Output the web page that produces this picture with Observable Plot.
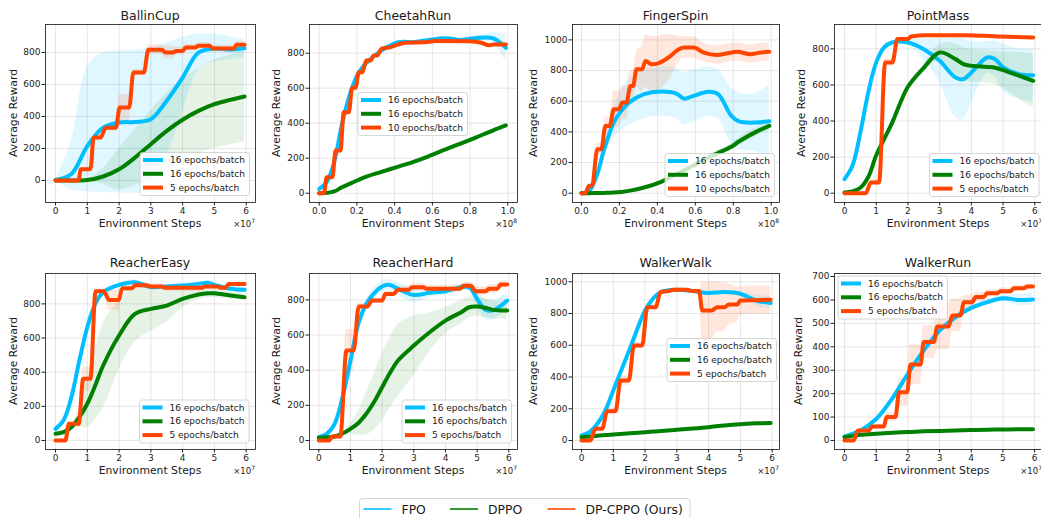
<!DOCTYPE html>
<html><head><meta charset="utf-8">
<script src="https://cdn.jsdelivr.net/npm/d3@7"></script>
<script src="https://cdn.jsdelivr.net/npm/@observablehq/plot@0.6"></script>
<style>
html,body{margin:0;padding:0;background:#fff;}
#root{position:relative;width:1041px;height:518px;overflow:hidden;font-family:"DejaVu Sans",sans-serif;}
</style></head><body><div id="root"></div>
<script>
// ---------- data ----------
const NAMES = ["BallinCup","CheetahRun","FingerSpin","PointMass","ReacherEasy","ReacherHard","WalkerWalk","WalkerRun"];
const SERIES = ["FPO","DPPO","DP-CPPO (Ours)"];
const FPO_LABEL = "16 epochs/batch", DPPO_LABEL = "16 epochs/batch";
const CP_LABELS = ["5 epochs/batch","10 epochs/batch","10 epochs/batch","5 epochs/batch","5 epochs/batch","5 epochs/batch","5 epochs/batch","5 epochs/batch"];
const X_TICKS_7 = [0,1,2,3,4,5,6];
const X_TICKS_8 = [0,0.2,0.4,0.6,0.8,1.0];
const Y_TICKS_800 = [0,200,400,600,800];
const Y_TICKS_1000 = [0,200,400,600,800,1000];
const Y_TICKS_700 = [0,100,200,300,400,500,600,700];

// BallinCup (FPO band given as explicit lower/upper edges)
const ballX = [0,0.5,1,1.5,2,2.5,3,3.5,4,4.5,5,5.5,5.95];
const ballFPO = [3,40,215,330,362,366,383,498,643,800,825,818,826];
const ballFPOlo = [3,-60,-70,-75,-78,-78,-72,150,420,690,740,755,770];
const ballFPOhi = [3,250,710,800,810,815,830,860,895,915,915,900,880];
const ballDPPO = [0,0,3,25,70,143,227,310,380,435,477,504,525];
const ballDPPOsd = [0,0,5,50,130,175,210,235,255,265,275,280,285];
const ballCPX = [0,0.72,0.8,1.1,1.2,1.42,1.58,1.9,2.02,2.32,2.45,2.78,2.92,3.35,3.45,3.7,3.8,4.0,4.1,4.4,4.5,4.85,4.95,5.6,5.7,5.95];
const ballCP = [0,0,71,71,269,269,330,330,456,456,675,675,817,817,800,800,810,810,831,831,842,842,825,825,848,848];
const ballCPsd = [0,0,10,10,20,20,20,20,80,80,20,20,30,30,40,40,25,25,20,20,20,20,20,20,20,20];

// CheetahRun (x in 1e8)
const cheX = [0,0.04,0.08,0.12,0.17,0.21,0.25,0.33,0.42,0.5,0.58,0.67,0.75,0.83,0.92,0.99];
const cheFPO = [25,63,180,390,590,690,745,815,863,863,876,886,876,886,886,830];
const cheFPOsd = [5,5,10,10,10,10,10,10,10,10,10,10,10,15,30,80];
const cheDPPO = [0,2,10,34,58,77,95,122,152,179,211,250,284,318,358,387];
const cheDPPOsd = [0,1,2,3,4,5,6,6,7,7,8,8,8,9,9,10];
const cheCPX = [0,0.025,0.04,0.07,0.087,0.113,0.13,0.157,0.175,0.193,0.21,0.228,0.25,0.272,0.29,0.307,0.33,0.38,0.42,0.46,0.55,0.62,0.8,0.86,0.9,0.93,0.99];
const cheCP = [0,0,91,91,244,244,463,463,602,602,691,691,758,758,787,787,825,835,850,860,862,870,868,860,845,850,850];
const cheCPsd = [0,0,12,12,15,15,15,15,15,15,12,12,12,12,12,12,12,12,12,12,12,12,12,12,12,12,12];

// FingerSpin (x in 1e8)
const finX = [0,0.04,0.08,0.12,0.17,0.21,0.25,0.33,0.42,0.5,0.54,0.58,0.67,0.72,0.79,0.83,0.92,0.99];
const finFPO = [0,15,113,287,461,537,591,646,663,650,617,630,661,646,505,468,461,470];
const finFPOsd = [0,5,20,50,100,130,150,160,160,165,170,170,160,160,185,185,190,240];
const finDPPO = [0,0,1,2,4,8,15,37,74,124,148,174,233,262,303,337,400,439];
const finDPPOsd = [0,0,0,0,2,3,5,8,10,12,14,15,18,20,22,25,28,30];
const finCPX = [0,0.02,0.04,0.056,0.083,0.105,0.126,0.149,0.17,0.197,0.215,0.237,0.258,0.272,0.29,0.32,0.337,0.37,0.4,0.43,0.47,0.5,0.54,0.59,0.645,0.715,0.77,0.82,0.89,0.94,0.99];
const finCP = [0,0,48,48,287,287,439,439,548,548,591,591,700,700,809,809,863,841,845,863,896,928,950,950,917,902,913,922,907,917,922];
const finCPsd = [0,0,10,10,40,40,60,60,120,120,110,110,100,100,120,150,170,180,175,170,140,100,70,70,60,60,60,60,60,60,60];

// PointMass
const ptX = [0,0.25,0.5,0.75,1,1.25,1.5,2,2.5,3,3.5,3.75,4,4.5,4.75,5,5.5,5.95];
const ptFPO = [78,152,336,558,725,808,835,835,798,734,641,632,669,752,743,697,660,654];
const ptFPOsd = [0,0,0,0,0,0,5,15,60,120,220,225,170,90,100,130,140,145];
const ptDPPO = [4,10,30,90,210,300,390,590,695,780,743,715,706,700,695,682,651,623];
const ptDPPOsd = [0,0,0,0,0,0,0,5,20,45,85,90,90,90,92,100,130,150];
const ptCPX = [0,0.67,0.83,1.09,1.28,1.51,1.67,2.0,2.1,2.6,3.8,4.8,5.95];
const ptCP = [0,0,59,59,725,725,854,854,869,876,876,869,863];
const ptCPsd = [0,0,15,15,20,20,10,10,8,8,8,8,8];

// ReacherEasy
const reX = [0,0.25,0.5,0.75,1,1.25,1.5,2,2.5,3,3.5,4,4.5,4.8,5,5.5,5.95];
const reFPO = [68,117,254,468,663,800,868,911,927,898,902,907,917,923,911,888,882];
const reFPOsd = [5,5,10,10,10,10,10,10,12,12,12,12,12,12,12,15,15];
const reDPPO = [39,49,78,137,215,322,439,615,741,771,790,829,855,862,862,849,839];
const reDPPOsd = [0,0,10,60,137,200,250,200,165,130,97,50,30,25,25,20,20];
const reCPX = [0,0.31,0.42,0.73,0.87,1.1,1.26,1.52,1.68,1.99,2.1,2.41,2.52,2.9,3.0,3.35,3.45,4.6,4.7,5.1,5.2,5.35,5.45,5.95];
const reCP = [0,0,98,98,361,361,874,874,823,823,892,892,911,907,901,901,894,894,901,901,894,894,917,917];
const reCPsd = [0,0,10,10,70,70,15,15,60,60,20,20,15,15,15,15,20,20,15,15,15,15,10,10];

// ReacherHard
const rhX = [0,0.25,0.5,0.75,1,1.25,1.5,1.75,2,2.25,2.5,3,3.5,4,4.5,4.75,5,5.25,5.5,5.95];
const rhFPO = [19,38,95,246,455,664,777,838,876,885,863,828,840,849,872,872,806,745,740,796];
const rhFPOsd = [5,5,10,20,30,30,30,30,30,30,35,45,30,20,20,25,45,55,55,45];
const rhDPPO = [15,18,23,40,66,100,152,220,303,385,455,540,616,682,730,758,762,755,743,739];
const rhDPPOsd = [0,0,3,10,30,70,120,160,190,200,205,170,110,75,65,60,55,55,50,50];
const rhCPX = [0,0.32,0.42,0.68,0.87,1.1,1.26,1.53,1.68,2.0,2.1,2.37,2.49,2.84,2.95,3.3,3.4,4.45,4.58,4.8,4.95,5.26,5.37,5.63,5.74,5.95];
const rhCP = [0,0,23,23,512,512,762,762,796,796,834,834,857,857,872,872,863,863,880,880,849,849,863,863,887,887];
const rhCPsd = [0,0,10,10,120,120,20,20,15,15,15,15,20,20,20,20,20,20,20,20,25,25,25,25,20,20];

// WalkerWalk
const wwX = [0,0.25,0.5,0.75,1,1.5,2,2.25,2.5,3,3.5,4,4.5,5,5.5,5.95];
const wwFPO = [32,53,105,189,315,567,819,893,935,950,941,929,935,924,882,866];
const wwFPOsd = [5,5,8,10,10,12,15,12,10,8,8,8,10,15,35,40];
const wwDPPO = [20,25,30,34,38,45,52,56,60,67,75,84,95,103,108,111];
const wwDPPOsd = [2,2,2,3,3,3,4,4,4,5,5,5,5,6,6,6];
const wwCPX = [0,0.28,0.44,0.65,0.81,1.07,1.23,1.49,1.65,1.91,2.07,2.33,2.49,2.75,2.9,3.3,3.5,3.7,3.8,4.1,4.27,4.5,4.64,4.9,5.0,5.95];
const wwCP = [0,0,74,74,185,185,378,378,599,599,840,840,935,941,950,950,941,941,819,819,840,840,857,857,882,886];
const wwCPsd = [0,0,10,10,15,15,30,30,20,20,20,20,10,10,10,10,10,10,180,180,160,150,130,110,90,90];

// WalkerRun
const wrX = [0,0.5,1,1.5,2,2.5,3,3.5,4,4.5,5,5.5,5.95];
const wrFPO = [17,43,92,178,285,384,469,526,566,590,607,600,602];
const wrFPOsd = [3,5,8,10,12,12,12,12,12,12,15,25,25];
const wrDPPO = [14,24,29,33,36,39,41,43,45,46,47,48,48];
const wrDPPOsd = [2,2,2,2,2,2,2,2,3,3,3,3,3];
const wrCPX = [0,0.29,0.42,0.77,0.87,1.24,1.33,1.61,1.72,1.98,2.08,2.4,2.5,2.82,2.93,3.29,3.4,3.66,3.77,4.03,4.14,4.4,4.5,4.82,4.93,5.24,5.35,5.66,5.77,5.95];
const wrCP = [0,0,43,43,60,60,100,100,206,206,324,324,420,420,487,487,534,534,590,590,612,612,629,629,637,637,650,650,657,657];
const wrCPsd = [0,0,5,5,10,10,20,20,60,60,85,85,70,70,100,100,70,70,30,30,20,20,15,15,15,15,12,12,10,10];

// ---------- assembly ----------
const panels = [
  {x:ballX,fpo:ballFPO,fpoLo:ballFPOlo,fpoHi:ballFPOhi,dppo:ballDPPO,dppoSd:ballDPPOsd,cpX:ballCPX,cp:ballCP,cpSd:ballCPsd,xt:X_TICKS_7,yt:Y_TICKS_800,exp:7},
  {x:cheX,fpo:cheFPO,fpoSd:cheFPOsd,dppo:cheDPPO,dppoSd:cheDPPOsd,cpX:cheCPX,cp:cheCP,cpSd:cheCPsd,xt:X_TICKS_8,yt:Y_TICKS_800,exp:8},
  {x:finX,fpo:finFPO,fpoSd:finFPOsd,dppo:finDPPO,dppoSd:finDPPOsd,cpX:finCPX,cp:finCP,cpSd:finCPsd,xt:X_TICKS_8,yt:Y_TICKS_1000,exp:8},
  {x:ptX,fpo:ptFPO,fpoSd:ptFPOsd,dppo:ptDPPO,dppoSd:ptDPPOsd,cpX:ptCPX,cp:ptCP,cpSd:ptCPsd,xt:X_TICKS_7,yt:Y_TICKS_800,exp:7},
  {x:reX,fpo:reFPO,fpoSd:reFPOsd,dppo:reDPPO,dppoSd:reDPPOsd,cpX:reCPX,cp:reCP,cpSd:reCPsd,xt:X_TICKS_7,yt:Y_TICKS_800,exp:7},
  {x:rhX,fpo:rhFPO,fpoSd:rhFPOsd,dppo:rhDPPO,dppoSd:rhDPPOsd,cpX:rhCPX,cp:rhCP,cpSd:rhCPsd,xt:X_TICKS_7,yt:Y_TICKS_800,exp:7},
  {x:wwX,fpo:wwFPO,fpoSd:wwFPOsd,dppo:wwDPPO,dppoSd:wwDPPOsd,cpX:wwCPX,cp:wwCP,cpSd:wwCPsd,xt:X_TICKS_7,yt:Y_TICKS_1000,exp:7},
  {x:wrX,fpo:wrFPO,fpoSd:wrFPOsd,dppo:wrDPPO,dppoSd:wrDPPOsd,cpX:wrCPX,cp:wrCP,cpSd:wrCPsd,xt:X_TICKS_7,yt:Y_TICKS_700,exp:7}
];

// layout (frame positions in page px, scale domains)
const LAYOUT = [
  {l:45, t:24, w:210,h:178, xd:[-0.315,6.293], yd:[-137.5,975], ay:13.5, tb:20,  lg:[140,152.5]},
  {l:309,t:24, w:208,h:178, xd:[-0.0514,1.0514], yd:[-53,964], ay:276.5, tb:20, lg:[358,92.5]},
  {l:572,t:24, w:207,h:178, xd:[-0.0474,1.0438], yd:[-60.7,1100.5], ay:533.5, tb:20, lg:[665,153.5]},
  {l:834,t:24, w:208,h:178, xd:[-0.315,6.242], yd:[-51.6,935], ay:801, tb:20, lg:[929.5,153.5]},
  {l:45, t:273,w:210,h:176, xd:[-0.315,6.293], yd:[-52.7,977.8], ay:13, tb:266.5, lg:[139.5,400]},
  {l:309,t:273,w:208,h:176, xd:[-0.294,6.274], yd:[-51.2,950], ay:276.5, tb:266.5, lg:[402,400]},
  {l:572,t:273,w:207,h:176, xd:[-0.283,6.23], yd:[-56.7,1052], ay:533, tb:266.5, lg:[667,338.5]},
  {l:834,t:273,w:208,h:176, xd:[-0.316,6.25], yd:[-38.4,712.8], ay:798.5, tb:266.5, lg:[838,276]}
];
const BLUE = "#00BFFF", GREEN = "#008000", ORANGE = "#FF4500";
const COLORS = [BLUE, GREEN, ORANGE];
const FONT = "DejaVu Sans";
const root = document.getElementById("root");

function rows(xs, ys, sd, lo, hi) {
  return xs.map((x, i) => ({
    x, y: ys[i],
    lo: lo ? lo[i] : ys[i] - sd[i],
    hi: hi ? hi[i] : ys[i] + sd[i]
  }));
}

panels.forEach((p, i) => {
  const L = LAYOUT[i];
  const ML = 40, MR = 6, MT = 5, MB = 25;
  const f = rows(p.x, p.fpo, p.fpoSd, p.fpoLo, p.fpoHi);
  const d = rows(p.x, p.dppo, p.dppoSd);
  const c = rows(p.cpX, p.cp, p.cpSd);
  const fmt = p.exp === 8 ? d3.format(".1f") : (v => String(v));
  const svg = Plot.plot({
    width: L.w + ML + MR, height: L.h + MT + MB,
    marginLeft: ML, marginRight: MR, marginTop: MT, marginBottom: MB,
    style: {fontFamily: FONT, fontSize: "9px", color: "#222", background: "none", overflow: "visible"},
    x: {domain: L.xd, label: null},
    y: {domain: L.yd, label: null},
    marks: [
      Plot.gridX(p.xt, {stroke: "#b0b0b0", strokeOpacity: 0.4, strokeWidth: 0.8}),
      Plot.gridY(p.yt, {stroke: "#b0b0b0", strokeOpacity: 0.4, strokeWidth: 0.8}),
      Plot.areaY(f, {x: "x", y1: "lo", y2: "hi", fill: BLUE, fillOpacity: 0.12, curve: "catmull-rom"}),
      Plot.areaY(d, {x: "x", y1: "lo", y2: "hi", fill: GREEN, fillOpacity: 0.1, curve: "catmull-rom"}),
      Plot.areaY(c, {x: "x", y1: "lo", y2: "hi", fill: ORANGE, fillOpacity: 0.13, curve: "monotone-x"}),
      Plot.line(f, {x: "x", y: "y", stroke: BLUE, strokeWidth: 4, curve: "catmull-rom"}),
      Plot.line(d, {x: "x", y: "y", stroke: GREEN, strokeWidth: 4, curve: "catmull-rom"}),
      Plot.line(c, {x: "x", y: "y", stroke: ORANGE, strokeWidth: 4, curve: "monotone-x"}),
      Plot.axisX(p.xt, {tickSize: 3.5, tickPadding: 2, tickFormat: fmt, label: null}),
      Plot.axisY(p.yt, {tickSize: 3.5, tickPadding: 1.5, tickFormat: v => String(v), label: null}),
      Plot.frame({stroke: "#111", strokeWidth: 0.8})
    ]
  });
  svg.style.position = "absolute";
  svg.style.left = (L.l - ML) + "px";
  svg.style.top = (L.t - MT) + "px";
  root.appendChild(svg);
});

// ---------- overlay: titles, axis labels, legends ----------
const ov = d3.select(root).append("svg")
  .attr("width", 1041).attr("height", 518)
  .style("position", "absolute").style("left", "0px").style("top", "0px")
  .style("font-family", FONT).attr("fill", "#1a1a1a");

panels.forEach((p, i) => {
  const L = LAYOUT[i];
  const cx = L.l + L.w / 2;
  ov.append("text").attr("x", cx).attr("y", L.tb).attr("text-anchor", "middle")
    .attr("font-size", 12.5).text(NAMES[i]);
  ov.append("text").attr("transform", `translate(${L.ay},${L.t + L.h / 2}) rotate(-90)`)
    .attr("text-anchor", "middle").attr("dominant-baseline", "central")
    .attr("font-size", 10.8).text("Average Reward");
  ov.append("text").attr("x", cx).attr("y", L.t + L.h + 25).attr("text-anchor", "middle")
    .attr("font-size", 10.8).text("Environment Steps");
  const e = ov.append("text").attr("x", L.l + L.w).attr("y", L.t + L.h + 24.5)
    .attr("text-anchor", "end").attr("font-size", 8.5);
  e.append("tspan").text("×10");
  e.append("tspan").attr("dy", -3.5).attr("font-size", 6).text(String(p.exp));

  // inner legend
  const [lx, ly] = L.lg;
  const g = ov.append("g");
  g.append("rect").attr("x", lx).attr("y", ly).attr("width", 109.5).attr("height", 43)
    .attr("rx", 2.5).attr("fill", "white").attr("fill-opacity", 0.8)
    .attr("stroke", "#cccccc").attr("stroke-width", 0.8);
  const labs = [FPO_LABEL, DPPO_LABEL, CP_LABELS[i]];
  labs.forEach((lab, k) => {
    const y = ly + 7.5 + 13.8 * k;
    g.append("line").attr("x1", lx + 3).attr("x2", lx + 23).attr("y1", y).attr("y2", y)
      .attr("stroke", COLORS[k]).attr("stroke-width", 4);
    g.append("text").attr("x", lx + 30).attr("y", y).attr("dominant-baseline", "central")
      .attr("font-size", 9).text(lab);
  });
});

// bottom legend
const bl = ov.append("g");
bl.append("rect").attr("x", 359.5).attr("y", 498.5).attr("width", 330.5).attr("height", 28)
  .attr("rx", 3).attr("fill", "white").attr("stroke", "#cccccc").attr("stroke-width", 0.8);
const BX = [363.5, 450, 547.5];
SERIES.forEach((s, k) => {
  bl.append("line").attr("x1", BX[k]).attr("x2", BX[k] + 28).attr("y1", 509).attr("y2", 509)
    .attr("stroke", COLORS[k]).attr("stroke-width", 1.6);
  bl.append("text").attr("x", BX[k] + 38).attr("y", 509).attr("dominant-baseline", "central")
    .attr("font-size", 12.4).text(s);
});
</script></body></html>
